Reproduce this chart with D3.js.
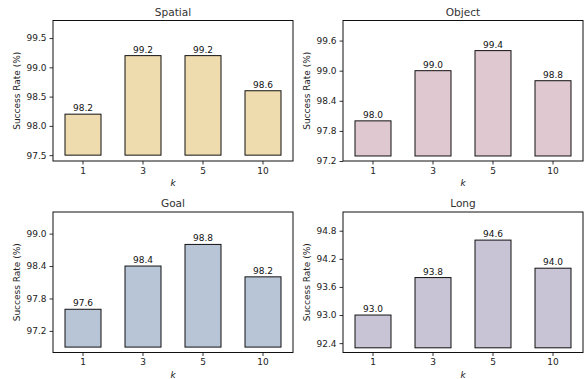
<!DOCTYPE html>
<html>
<head>
<meta charset="utf-8">
<script src="https://cdn.jsdelivr.net/npm/d3@7"></script>
<style>
  body { margin: 0; background: #fff; }
  svg { display: block; font-family: "DejaVu Sans", sans-serif; }
  .tick text { fill: #222; font-size: 9px; font-family: "DejaVu Sans", sans-serif; }
  .tick line { stroke: #333; }
  .domain { display: none; }
</style>
</head>
<body>
<div id="chart"></div>
<script>
// data
const kLabels = ["1", "3", "5", "10"]
const panelTitles = ["Spatial", "Object", "Goal", "Long"]
const spatialVals = [98.2, 99.2, 99.2, 98.6]
const objectVals = [98.0, 99.0, 99.4, 98.8]
const goalVals = [97.6, 98.4, 98.8, 98.2]
const longVals = [93.0, 93.8, 94.6, 94.0]
const spatialTicks = [97.5, 98.0, 98.5, 99.0, 99.5]
const objectTicks = [97.2, 97.8, 98.4, 99.0, 99.6]
const goalTicks = [97.2, 97.8, 98.4, 99.0]
const longTicks = [92.4, 93.0, 93.6, 94.2, 94.8]
const barColors = ["#efdcae", "#dfc8d0", "#b8c5d7", "#c8c4d5"]

const W = 585, H = 379
var colX = [53, 343], colW = 240
var rowY = [20.5, 212], rowH = 140.5

var svg = d3.select("#chart").append("svg")
    .attr("width", W)
    .attr("height", H)

var panels = [
    { title: panelTitles[0], vals: spatialVals, ticks: spatialTicks, color: barColors[0], col: 0, row: 0 },
    { title: panelTitles[1], vals: objectVals, ticks: objectTicks, color: barColors[1], col: 1, row: 0 },
    { title: panelTitles[2], vals: goalVals, ticks: goalTicks, color: barColors[2], col: 0, row: 1 },
    { title: panelTitles[3], vals: longVals, ticks: longTicks, color: barColors[3], col: 1, row: 1 }
]

function drawPanel(p) {
    var g = svg.append("g")
        .attr("transform", "translate(" + colX[p.col] + "," + rowY[p.row] + ")")

    var lo = d3.min(p.vals), hi = d3.max(p.vals)
    var base = lo - 0.7

    var x = d3.scaleBand()
        .domain(kLabels)
        .range([0, colW])
        .paddingInner(0.4)
        .paddingOuter(0.2)

    var y = d3.scaleLinear()
        .domain([lo - 0.8, hi + 0.6])
        .range([rowH, 0])

    g.append("g")
        .attr("transform", "translate(0," + rowH + ")")
        .call(d3.axisBottom(x).tickSize(3.5).tickPadding(3))
        .attr("font-family", null)

    g.append("g")
        .call(d3.axisLeft(y).tickValues(p.ticks).tickFormat(d3.format(".1f")).tickSize(3.5).tickPadding(3))
        .attr("font-family", null)

    g.selectAll(".bar")
        .data(p.vals)
        .enter().append("rect")
        .attr("class", "bar")
        .attr("x", (d, i) => x(kLabels[i]))
        .attr("y", d => y(d))
        .attr("width", x.bandwidth())
        .attr("height", d => y(base) - y(d))
        .style("fill", p.color)
        .style("stroke", "#111")
        .style("stroke-width", 1)

    g.selectAll(".val")
        .data(p.vals)
        .enter().append("text")
        .attr("class", "val")
        .attr("x", (d, i) => x(kLabels[i]) + x.bandwidth() / 2)
        .attr("y", d => y(d) - 3)
        .style("text-anchor", "middle")
        .style("font-size", "9px")
        .style("fill", "#111")
        .text(d => d3.format(".1f")(d))

    // frame
    g.append("rect")
        .attr("x", 0)
        .attr("y", 0)
        .attr("width", colW)
        .attr("height", rowH)
        .style("fill", "none")
        .style("stroke", "#111")
        .style("stroke-width", 1)

    g.append("text")
        .attr("x", colW / 2)
        .attr("y", -5)
        .style("text-anchor", "middle")
        .style("font-size", "10.6px")
        .style("fill", "#333")
        .text(p.title)

    g.append("text")
        .attr("x", colW / 2)
        .attr("y", rowH + 25)
        .style("text-anchor", "middle")
        .style("font-size", "9px")
        .style("font-style", "italic")
        .style("fill", "#222")
        .text("k")

    g.append("text")
        .attr("transform", "translate(-33," + rowH / 2 + ") rotate(-90)")
        .style("text-anchor", "middle")
        .style("font-size", "9px")
        .style("fill", "#222")
        .text("Success Rate (%)")
}

panels.forEach(drawPanel)
</script>
</body>
</html>
